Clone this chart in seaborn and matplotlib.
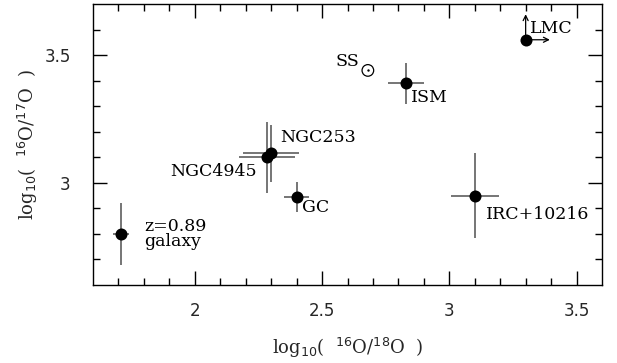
import matplotlib
matplotlib.use("Agg")
import matplotlib.pyplot as plt
import seaborn as sns
import numpy as np
import pandas as pd

# ---- data ----
names = ["z=0.89\ngalaxy", "NGC253", "NGC4945", "GC", "ISM", "IRC+10216", "LMC"]
x_val = [1.71, 2.30, 2.285, 2.40, 2.83, 3.10, 3.30]
y_val = [2.80, 3.115, 3.10, 2.945, 3.39, 2.95, 3.56]
x_err = [0.03, 0.11, 0.11, 0.05, 0.07, 0.095, 0.0]
y_err = [0.12, 0.11, 0.14, 0.06, 0.08, 0.165, 0.0]

ss_x, ss_y = [2.68], [3.44]

label_text = ["z=0.89\ngalaxy", "NGC253", "NGC4945", "GC", "ISM", "IRC+10216", "LMC", "SS"]
label_x = [1.80, 2.335, 2.245, 2.42, 2.85, 3.145, 3.317, 2.645]
label_y = [2.80, 3.177, 3.044, 2.903, 3.333, 2.876, 3.606, 3.473]
label_ha = ["left", "left", "right", "left", "left", "left", "left", "right"]

x_ticks = [2, 2.5, 3, 3.5]
x_ticklabels = ["2", "2.5", "3", "3.5"]
y_ticks = [3, 3.5]
y_ticklabels = ["3", "3.5"]

df = pd.DataFrame({"name": names, "x": x_val, "y": y_val})

sns.set_style("ticks")
plt.rcParams["font.family"] = ["DejaVu Serif"]

fig = plt.figure(figsize=(6.17, 3.63), dpi=100)
ax = fig.add_axes([93 / 617, 1 - 285 / 363, (602 - 93) / 617, (285 - 4) / 363])

# error bars
for xi, yi, xe, ye in zip(x_val, y_val, x_err, y_err):
    if xe > 0 or ye > 0:
        ax.errorbar(xi, yi, xerr=xe, yerr=ye, fmt="none", ecolor="#505050",
                    elinewidth=1.1, capsize=0, zorder=2)

sns.scatterplot(data=df, x="x", y="y", ax=ax, color="black", s=75,
                edgecolor="black", linewidth=0, zorder=3, legend=False)

# solar system symbol
sns.scatterplot(x=ss_x, y=ss_y, ax=ax, marker="o", s=70, facecolor="none",
                edgecolor="black", linewidth=0.9, zorder=3, legend=False)
sns.scatterplot(x=ss_x, y=ss_y, ax=ax, marker="o", s=3, color="black",
                linewidth=0, zorder=3, legend=False)

# LMC limits arrows
lx, ly = x_val[-1], y_val[-1]
ax.annotate("", xy=(lx, ly + 0.10), xytext=(lx, ly),
            arrowprops=dict(arrowstyle="->", color="black", lw=0.9,
                            shrinkA=0, shrinkB=0, mutation_scale=9))
ax.annotate("", xy=(lx + 0.095, ly), xytext=(lx, ly),
            arrowprops=dict(arrowstyle="->", color="black", lw=0.9,
                            shrinkA=0, shrinkB=0, mutation_scale=9))

for t, tx, ty, ha in zip(label_text, label_x, label_y, label_ha):
    ax.text(tx, ty, t, ha=ha, va="center", fontsize=12.5,
            linespacing=0.85, color="black")

ax.set_xlim(1.6, 3.6)
ax.set_ylim(2.6, 3.7)
ax.set_xticks(x_ticks)
ax.set_xticklabels(x_ticklabels)
ax.set_yticks(y_ticks)
ax.set_yticklabels(y_ticklabels)
ax.set_xticks(np.arange(1.7, 3.6, 0.1), minor=True)
ax.set_yticks(np.arange(2.7, 3.7, 0.1), minor=True)
ax.tick_params(which="both", direction="in", top=True, right=True, color="black")
ax.tick_params(which="major", length=10, width=1.0, labelsize=12)
ax.tick_params(axis="x", which="major", pad=12)
ax.tick_params(axis="y", which="major", pad=16)
ax.tick_params(which="minor", length=5, width=1.0)
for lab in ax.get_xticklabels() + ax.get_yticklabels():
    lab.set_family("DejaVu Sans")
for sp in ax.spines.values():
    sp.set_linewidth(1.0)
    sp.set_color("black")

ax.set_xlabel(r"log$_{10}$(  $^{16}$O/$^{18}$O  )", fontsize=13, labelpad=12)
ax.set_ylabel(r"log$_{10}$(  $^{16}$O/$^{17}$O  )", fontsize=13, labelpad=3)

fig.savefig("out.png", dpi=100, facecolor="white")
